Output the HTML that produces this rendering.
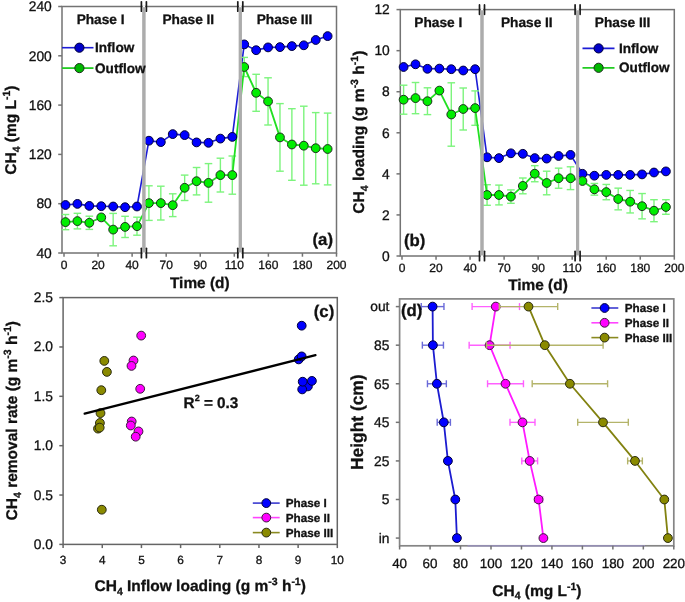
<!DOCTYPE html>
<html><head><meta charset="utf-8"><style>
html,body{margin:0;padding:0;background:#fff;}
svg{display:block;will-change:transform;}
text{text-rendering:geometricPrecision;font-family:"Liberation Sans", sans-serif;fill:#111;stroke:#111;stroke-width:0.3px;}
</style></head><body>
<svg width="685" height="602" viewBox="0 0 685 602">
<rect width="685" height="602" fill="#fff"/>
<rect x="62.0" y="6.5" width="274.50" height="246.50" fill="none" stroke="#737373" stroke-width="1.5"/>
<line x1="58.20" y1="253.00" x2="62.00" y2="253.00" stroke="#737373" stroke-width="1.5" />
<text x="51.80" y="257.70" font-size="13.8" text-anchor="end" font-weight="normal" >40</text>
<line x1="58.20" y1="203.70" x2="62.00" y2="203.70" stroke="#737373" stroke-width="1.5" />
<text x="51.80" y="208.40" font-size="13.8" text-anchor="end" font-weight="normal" >80</text>
<line x1="58.20" y1="154.40" x2="62.00" y2="154.40" stroke="#737373" stroke-width="1.5" />
<text x="51.80" y="159.10" font-size="13.8" text-anchor="end" font-weight="normal" >120</text>
<line x1="58.20" y1="105.10" x2="62.00" y2="105.10" stroke="#737373" stroke-width="1.5" />
<text x="51.80" y="109.80" font-size="13.8" text-anchor="end" font-weight="normal" >160</text>
<line x1="58.20" y1="55.80" x2="62.00" y2="55.80" stroke="#737373" stroke-width="1.5" />
<text x="51.80" y="60.50" font-size="13.8" text-anchor="end" font-weight="normal" >200</text>
<line x1="58.20" y1="6.50" x2="62.00" y2="6.50" stroke="#737373" stroke-width="1.5" />
<text x="51.80" y="11.20" font-size="13.8" text-anchor="end" font-weight="normal" >240</text>
<line x1="64.00" y1="253.00" x2="64.00" y2="256.70" stroke="#737373" stroke-width="1.5" />
<text x="64.00" y="268.90" font-size="12" text-anchor="middle" font-weight="normal" >0</text>
<line x1="98.06" y1="253.00" x2="98.06" y2="256.70" stroke="#737373" stroke-width="1.5" />
<text x="98.06" y="268.90" font-size="12" text-anchor="middle" font-weight="normal" >20</text>
<line x1="132.12" y1="253.00" x2="132.12" y2="256.70" stroke="#737373" stroke-width="1.5" />
<text x="132.12" y="268.90" font-size="12" text-anchor="middle" font-weight="normal" >40</text>
<line x1="166.19" y1="253.00" x2="166.19" y2="256.70" stroke="#737373" stroke-width="1.5" />
<text x="166.19" y="268.90" font-size="12" text-anchor="middle" font-weight="normal" >70</text>
<line x1="200.25" y1="253.00" x2="200.25" y2="256.70" stroke="#737373" stroke-width="1.5" />
<text x="200.25" y="268.90" font-size="12" text-anchor="middle" font-weight="normal" >90</text>
<line x1="234.31" y1="253.00" x2="234.31" y2="256.70" stroke="#737373" stroke-width="1.5" />
<text x="234.31" y="268.90" font-size="12" text-anchor="middle" font-weight="normal" >110</text>
<line x1="268.38" y1="253.00" x2="268.38" y2="256.70" stroke="#737373" stroke-width="1.5" />
<text x="268.38" y="268.90" font-size="12" text-anchor="middle" font-weight="normal" >160</text>
<line x1="302.44" y1="253.00" x2="302.44" y2="256.70" stroke="#737373" stroke-width="1.5" />
<text x="302.44" y="268.90" font-size="12" text-anchor="middle" font-weight="normal" >180</text>
<line x1="336.50" y1="253.00" x2="336.50" y2="256.70" stroke="#737373" stroke-width="1.5" />
<text x="336.50" y="268.90" font-size="12" text-anchor="middle" font-weight="normal" >200</text>
<text x="100.60" y="24.10" font-size="13.7" text-anchor="middle" font-weight="bold" >Phase I</text>
<text x="188.30" y="24.10" font-size="13.7" text-anchor="middle" font-weight="bold" >Phase II</text>
<text x="284.50" y="24.10" font-size="13.7" text-anchor="middle" font-weight="bold" >Phase III</text>
<polyline points="65.50,205.00 77.41,203.90 89.33,205.90 101.25,206.20 113.16,206.50 125.07,207.20 136.99,206.50 148.91,140.70 160.82,142.10 172.73,134.10 184.65,135.10 196.56,142.40 208.48,142.80 220.39,138.60 232.31,136.90 244.22,44.40 256.14,50.20 268.05,47.40 279.97,47.10 291.88,46.10 303.80,45.30 315.71,40.00 327.63,36.10" fill="none" stroke="#1c1cd6" stroke-width="1.6" stroke-linejoin="round"/>
<line x1="65.50" y1="214.50" x2="65.50" y2="229.70" stroke="#7cf47c" stroke-width="1.4" />
<line x1="61.70" y1="214.50" x2="69.30" y2="214.50" stroke="#7cf47c" stroke-width="1.4" />
<line x1="61.70" y1="229.70" x2="69.30" y2="229.70" stroke="#7cf47c" stroke-width="1.4" />
<line x1="77.41" y1="213.30" x2="77.41" y2="228.90" stroke="#7cf47c" stroke-width="1.4" />
<line x1="73.61" y1="213.30" x2="81.21" y2="213.30" stroke="#7cf47c" stroke-width="1.4" />
<line x1="73.61" y1="228.90" x2="81.21" y2="228.90" stroke="#7cf47c" stroke-width="1.4" />
<line x1="89.33" y1="216.20" x2="89.33" y2="229.40" stroke="#7cf47c" stroke-width="1.4" />
<line x1="85.53" y1="216.20" x2="93.13" y2="216.20" stroke="#7cf47c" stroke-width="1.4" />
<line x1="85.53" y1="229.40" x2="93.13" y2="229.40" stroke="#7cf47c" stroke-width="1.4" />
<line x1="113.16" y1="213.40" x2="113.16" y2="245.80" stroke="#7cf47c" stroke-width="1.4" />
<line x1="109.36" y1="213.40" x2="116.96" y2="213.40" stroke="#7cf47c" stroke-width="1.4" />
<line x1="109.36" y1="245.80" x2="116.96" y2="245.80" stroke="#7cf47c" stroke-width="1.4" />
<line x1="125.07" y1="216.30" x2="125.07" y2="237.50" stroke="#7cf47c" stroke-width="1.4" />
<line x1="121.27" y1="216.30" x2="128.88" y2="216.30" stroke="#7cf47c" stroke-width="1.4" />
<line x1="121.27" y1="237.50" x2="128.88" y2="237.50" stroke="#7cf47c" stroke-width="1.4" />
<line x1="136.99" y1="217.20" x2="136.99" y2="235.20" stroke="#7cf47c" stroke-width="1.4" />
<line x1="133.19" y1="217.20" x2="140.79" y2="217.20" stroke="#7cf47c" stroke-width="1.4" />
<line x1="133.19" y1="235.20" x2="140.79" y2="235.20" stroke="#7cf47c" stroke-width="1.4" />
<line x1="148.91" y1="185.80" x2="148.91" y2="220.40" stroke="#7cf47c" stroke-width="1.4" />
<line x1="145.10" y1="185.80" x2="152.71" y2="185.80" stroke="#7cf47c" stroke-width="1.4" />
<line x1="145.10" y1="220.40" x2="152.71" y2="220.40" stroke="#7cf47c" stroke-width="1.4" />
<line x1="160.82" y1="186.20" x2="160.82" y2="220.00" stroke="#7cf47c" stroke-width="1.4" />
<line x1="157.02" y1="186.20" x2="164.62" y2="186.20" stroke="#7cf47c" stroke-width="1.4" />
<line x1="157.02" y1="220.00" x2="164.62" y2="220.00" stroke="#7cf47c" stroke-width="1.4" />
<line x1="172.73" y1="193.80" x2="172.73" y2="216.60" stroke="#7cf47c" stroke-width="1.4" />
<line x1="168.93" y1="193.80" x2="176.53" y2="193.80" stroke="#7cf47c" stroke-width="1.4" />
<line x1="168.93" y1="216.60" x2="176.53" y2="216.60" stroke="#7cf47c" stroke-width="1.4" />
<line x1="184.65" y1="175.10" x2="184.65" y2="200.50" stroke="#7cf47c" stroke-width="1.4" />
<line x1="180.85" y1="175.10" x2="188.45" y2="175.10" stroke="#7cf47c" stroke-width="1.4" />
<line x1="180.85" y1="200.50" x2="188.45" y2="200.50" stroke="#7cf47c" stroke-width="1.4" />
<line x1="196.56" y1="167.50" x2="196.56" y2="194.90" stroke="#7cf47c" stroke-width="1.4" />
<line x1="192.76" y1="167.50" x2="200.37" y2="167.50" stroke="#7cf47c" stroke-width="1.4" />
<line x1="192.76" y1="194.90" x2="200.37" y2="194.90" stroke="#7cf47c" stroke-width="1.4" />
<line x1="208.48" y1="163.60" x2="208.48" y2="202.20" stroke="#7cf47c" stroke-width="1.4" />
<line x1="204.68" y1="163.60" x2="212.28" y2="163.60" stroke="#7cf47c" stroke-width="1.4" />
<line x1="204.68" y1="202.20" x2="212.28" y2="202.20" stroke="#7cf47c" stroke-width="1.4" />
<line x1="220.39" y1="158.20" x2="220.39" y2="192.00" stroke="#7cf47c" stroke-width="1.4" />
<line x1="216.59" y1="158.20" x2="224.19" y2="158.20" stroke="#7cf47c" stroke-width="1.4" />
<line x1="216.59" y1="192.00" x2="224.19" y2="192.00" stroke="#7cf47c" stroke-width="1.4" />
<line x1="232.31" y1="156.00" x2="232.31" y2="194.20" stroke="#7cf47c" stroke-width="1.4" />
<line x1="228.51" y1="156.00" x2="236.11" y2="156.00" stroke="#7cf47c" stroke-width="1.4" />
<line x1="228.51" y1="194.20" x2="236.11" y2="194.20" stroke="#7cf47c" stroke-width="1.4" />
<line x1="244.22" y1="57.40" x2="244.22" y2="76.60" stroke="#7cf47c" stroke-width="1.4" />
<line x1="240.42" y1="57.40" x2="248.03" y2="57.40" stroke="#7cf47c" stroke-width="1.4" />
<line x1="240.42" y1="76.60" x2="248.03" y2="76.60" stroke="#7cf47c" stroke-width="1.4" />
<line x1="256.14" y1="74.30" x2="256.14" y2="111.30" stroke="#7cf47c" stroke-width="1.4" />
<line x1="252.34" y1="74.30" x2="259.94" y2="74.30" stroke="#7cf47c" stroke-width="1.4" />
<line x1="252.34" y1="111.30" x2="259.94" y2="111.30" stroke="#7cf47c" stroke-width="1.4" />
<line x1="268.05" y1="77.80" x2="268.05" y2="125.00" stroke="#7cf47c" stroke-width="1.4" />
<line x1="264.25" y1="77.80" x2="271.85" y2="77.80" stroke="#7cf47c" stroke-width="1.4" />
<line x1="264.25" y1="125.00" x2="271.85" y2="125.00" stroke="#7cf47c" stroke-width="1.4" />
<line x1="279.97" y1="103.60" x2="279.97" y2="171.20" stroke="#7cf47c" stroke-width="1.4" />
<line x1="276.17" y1="103.60" x2="283.77" y2="103.60" stroke="#7cf47c" stroke-width="1.4" />
<line x1="276.17" y1="171.20" x2="283.77" y2="171.20" stroke="#7cf47c" stroke-width="1.4" />
<line x1="291.88" y1="108.70" x2="291.88" y2="180.30" stroke="#7cf47c" stroke-width="1.4" />
<line x1="288.08" y1="108.70" x2="295.69" y2="108.70" stroke="#7cf47c" stroke-width="1.4" />
<line x1="288.08" y1="180.30" x2="295.69" y2="180.30" stroke="#7cf47c" stroke-width="1.4" />
<line x1="303.80" y1="106.20" x2="303.80" y2="185.20" stroke="#7cf47c" stroke-width="1.4" />
<line x1="300.00" y1="106.20" x2="307.60" y2="106.20" stroke="#7cf47c" stroke-width="1.4" />
<line x1="300.00" y1="185.20" x2="307.60" y2="185.20" stroke="#7cf47c" stroke-width="1.4" />
<line x1="315.71" y1="112.60" x2="315.71" y2="183.80" stroke="#7cf47c" stroke-width="1.4" />
<line x1="311.91" y1="112.60" x2="319.51" y2="112.60" stroke="#7cf47c" stroke-width="1.4" />
<line x1="311.91" y1="183.80" x2="319.51" y2="183.80" stroke="#7cf47c" stroke-width="1.4" />
<line x1="327.63" y1="113.10" x2="327.63" y2="184.90" stroke="#7cf47c" stroke-width="1.4" />
<line x1="323.83" y1="113.10" x2="331.43" y2="113.10" stroke="#7cf47c" stroke-width="1.4" />
<line x1="323.83" y1="184.90" x2="331.43" y2="184.90" stroke="#7cf47c" stroke-width="1.4" />
<polyline points="65.50,222.10 77.41,221.10 89.33,222.80 101.25,217.40 113.16,229.60 125.07,226.90 136.99,226.20 148.91,203.10 160.82,203.10 172.73,205.20 184.65,187.80 196.56,181.20 208.48,182.90 220.39,175.10 232.31,175.10 244.22,67.00 256.14,92.80 268.05,101.40 279.97,137.40 291.88,144.50 303.80,145.70 315.71,148.20 327.63,149.00" fill="none" stroke="#22e022" stroke-width="1.8" stroke-linejoin="round"/>
<circle cx="65.50" cy="205.00" r="4.4" fill="#0000ff" stroke="#00003a" stroke-width="1.0"/>
<circle cx="77.41" cy="203.90" r="4.4" fill="#0000ff" stroke="#00003a" stroke-width="1.0"/>
<circle cx="89.33" cy="205.90" r="4.4" fill="#0000ff" stroke="#00003a" stroke-width="1.0"/>
<circle cx="101.25" cy="206.20" r="4.4" fill="#0000ff" stroke="#00003a" stroke-width="1.0"/>
<circle cx="113.16" cy="206.50" r="4.4" fill="#0000ff" stroke="#00003a" stroke-width="1.0"/>
<circle cx="125.07" cy="207.20" r="4.4" fill="#0000ff" stroke="#00003a" stroke-width="1.0"/>
<circle cx="136.99" cy="206.50" r="4.4" fill="#0000ff" stroke="#00003a" stroke-width="1.0"/>
<circle cx="148.91" cy="140.70" r="4.4" fill="#0000ff" stroke="#00003a" stroke-width="1.0"/>
<circle cx="160.82" cy="142.10" r="4.4" fill="#0000ff" stroke="#00003a" stroke-width="1.0"/>
<circle cx="172.73" cy="134.10" r="4.4" fill="#0000ff" stroke="#00003a" stroke-width="1.0"/>
<circle cx="184.65" cy="135.10" r="4.4" fill="#0000ff" stroke="#00003a" stroke-width="1.0"/>
<circle cx="196.56" cy="142.40" r="4.4" fill="#0000ff" stroke="#00003a" stroke-width="1.0"/>
<circle cx="208.48" cy="142.80" r="4.4" fill="#0000ff" stroke="#00003a" stroke-width="1.0"/>
<circle cx="220.39" cy="138.60" r="4.4" fill="#0000ff" stroke="#00003a" stroke-width="1.0"/>
<circle cx="232.31" cy="136.90" r="4.4" fill="#0000ff" stroke="#00003a" stroke-width="1.0"/>
<circle cx="244.22" cy="44.40" r="4.4" fill="#0000ff" stroke="#00003a" stroke-width="1.0"/>
<circle cx="256.14" cy="50.20" r="4.4" fill="#0000ff" stroke="#00003a" stroke-width="1.0"/>
<circle cx="268.05" cy="47.40" r="4.4" fill="#0000ff" stroke="#00003a" stroke-width="1.0"/>
<circle cx="279.97" cy="47.10" r="4.4" fill="#0000ff" stroke="#00003a" stroke-width="1.0"/>
<circle cx="291.88" cy="46.10" r="4.4" fill="#0000ff" stroke="#00003a" stroke-width="1.0"/>
<circle cx="303.80" cy="45.30" r="4.4" fill="#0000ff" stroke="#00003a" stroke-width="1.0"/>
<circle cx="315.71" cy="40.00" r="4.4" fill="#0000ff" stroke="#00003a" stroke-width="1.0"/>
<circle cx="327.63" cy="36.10" r="4.4" fill="#0000ff" stroke="#00003a" stroke-width="1.0"/>
<circle cx="65.50" cy="222.10" r="4.4" fill="#00ee00" stroke="#1e2e1e" stroke-width="1.0"/>
<circle cx="77.41" cy="221.10" r="4.4" fill="#00ee00" stroke="#1e2e1e" stroke-width="1.0"/>
<circle cx="89.33" cy="222.80" r="4.4" fill="#00ee00" stroke="#1e2e1e" stroke-width="1.0"/>
<circle cx="101.25" cy="217.40" r="4.4" fill="#00ee00" stroke="#1e2e1e" stroke-width="1.0"/>
<circle cx="113.16" cy="229.60" r="4.4" fill="#00ee00" stroke="#1e2e1e" stroke-width="1.0"/>
<circle cx="125.07" cy="226.90" r="4.4" fill="#00ee00" stroke="#1e2e1e" stroke-width="1.0"/>
<circle cx="136.99" cy="226.20" r="4.4" fill="#00ee00" stroke="#1e2e1e" stroke-width="1.0"/>
<circle cx="148.91" cy="203.10" r="4.4" fill="#00ee00" stroke="#1e2e1e" stroke-width="1.0"/>
<circle cx="160.82" cy="203.10" r="4.4" fill="#00ee00" stroke="#1e2e1e" stroke-width="1.0"/>
<circle cx="172.73" cy="205.20" r="4.4" fill="#00ee00" stroke="#1e2e1e" stroke-width="1.0"/>
<circle cx="184.65" cy="187.80" r="4.4" fill="#00ee00" stroke="#1e2e1e" stroke-width="1.0"/>
<circle cx="196.56" cy="181.20" r="4.4" fill="#00ee00" stroke="#1e2e1e" stroke-width="1.0"/>
<circle cx="208.48" cy="182.90" r="4.4" fill="#00ee00" stroke="#1e2e1e" stroke-width="1.0"/>
<circle cx="220.39" cy="175.10" r="4.4" fill="#00ee00" stroke="#1e2e1e" stroke-width="1.0"/>
<circle cx="232.31" cy="175.10" r="4.4" fill="#00ee00" stroke="#1e2e1e" stroke-width="1.0"/>
<circle cx="244.22" cy="67.00" r="4.4" fill="#00ee00" stroke="#1e2e1e" stroke-width="1.0"/>
<circle cx="256.14" cy="92.80" r="4.4" fill="#00ee00" stroke="#1e2e1e" stroke-width="1.0"/>
<circle cx="268.05" cy="101.40" r="4.4" fill="#00ee00" stroke="#1e2e1e" stroke-width="1.0"/>
<circle cx="279.97" cy="137.40" r="4.4" fill="#00ee00" stroke="#1e2e1e" stroke-width="1.0"/>
<circle cx="291.88" cy="144.50" r="4.4" fill="#00ee00" stroke="#1e2e1e" stroke-width="1.0"/>
<circle cx="303.80" cy="145.70" r="4.4" fill="#00ee00" stroke="#1e2e1e" stroke-width="1.0"/>
<circle cx="315.71" cy="148.20" r="4.4" fill="#00ee00" stroke="#1e2e1e" stroke-width="1.0"/>
<circle cx="327.63" cy="149.00" r="4.4" fill="#00ee00" stroke="#1e2e1e" stroke-width="1.0"/>
<line x1="143.90" y1="7.30" x2="143.90" y2="252.50" stroke="#acacac" stroke-width="3.0" />
<rect x="142.70" y="5.50" width="2.4" height="2" fill="#fff"/>
<line x1="141.40" y1="1.80" x2="141.40" y2="11.20" stroke="#1a1a1a" stroke-width="1.7" stroke-linecap="round"/>
<line x1="146.40" y1="1.80" x2="146.40" y2="11.20" stroke="#1a1a1a" stroke-width="1.7" stroke-linecap="round"/>
<rect x="142.70" y="252.00" width="2.4" height="2" fill="#fff"/>
<line x1="141.40" y1="248.30" x2="141.40" y2="257.70" stroke="#1a1a1a" stroke-width="1.7" stroke-linecap="round"/>
<line x1="146.40" y1="248.30" x2="146.40" y2="257.70" stroke="#1a1a1a" stroke-width="1.7" stroke-linecap="round"/>
<line x1="143.90" y1="7.30" x2="143.90" y2="252.50" stroke="#acacac" stroke-width="3.0" />
<line x1="240.30" y1="7.30" x2="240.30" y2="252.50" stroke="#acacac" stroke-width="3.0" />
<rect x="239.10" y="5.50" width="2.4" height="2" fill="#fff"/>
<line x1="237.80" y1="1.80" x2="237.80" y2="11.20" stroke="#1a1a1a" stroke-width="1.7" stroke-linecap="round"/>
<line x1="242.80" y1="1.80" x2="242.80" y2="11.20" stroke="#1a1a1a" stroke-width="1.7" stroke-linecap="round"/>
<rect x="239.10" y="252.00" width="2.4" height="2" fill="#fff"/>
<line x1="237.80" y1="248.30" x2="237.80" y2="257.70" stroke="#1a1a1a" stroke-width="1.7" stroke-linecap="round"/>
<line x1="242.80" y1="248.30" x2="242.80" y2="257.70" stroke="#1a1a1a" stroke-width="1.7" stroke-linecap="round"/>
<line x1="240.30" y1="7.30" x2="240.30" y2="252.50" stroke="#acacac" stroke-width="3.0" />
<line x1="62.00" y1="47.70" x2="93.50" y2="47.70" stroke="#1c1cd6" stroke-width="1.6" />
<circle cx="79.40" cy="47.70" r="4.6" fill="#0000c8" stroke="#00003a" stroke-width="1.0"/>
<line x1="62.00" y1="68.10" x2="93.50" y2="68.10" stroke="#22cc22" stroke-width="1.8" />
<circle cx="79.40" cy="68.10" r="4.6" fill="#00b800" stroke="#1e2e1e" stroke-width="1.0"/>
<text x="95.00" y="52.20" font-size="13.6" text-anchor="start" font-weight="bold" >Inflow</text>
<text x="95.00" y="72.60" font-size="13.6" text-anchor="start" font-weight="bold" >Outflow</text>
<text x="333.00" y="244.60" font-size="16.8" text-anchor="end" font-weight="bold" >(a)</text>
<text transform="translate(16.2,130.1) rotate(-90)" font-size="15.5" font-weight="bold" text-anchor="middle"><tspan dy="0.0">CH</tspan><tspan font-size="10.5" dy="3.6">4</tspan><tspan dy="-3.6"> (mg L</tspan><tspan font-size="10.5" dy="-6.2">-1</tspan><tspan dy="6.2">)</tspan></text>
<text x="199.80" y="288.00" font-size="15.4" text-anchor="middle" font-weight="bold" >Time (d)</text>
<rect x="400.3" y="9.6" width="274.00" height="246.40" fill="none" stroke="#737373" stroke-width="1.5"/>
<line x1="396.50" y1="256.00" x2="400.30" y2="256.00" stroke="#737373" stroke-width="1.5" />
<text x="389.80" y="260.70" font-size="13.8" text-anchor="end" font-weight="normal" >0</text>
<line x1="396.50" y1="214.93" x2="400.30" y2="214.93" stroke="#737373" stroke-width="1.5" />
<text x="389.80" y="219.63" font-size="13.8" text-anchor="end" font-weight="normal" >2</text>
<line x1="396.50" y1="173.87" x2="400.30" y2="173.87" stroke="#737373" stroke-width="1.5" />
<text x="389.80" y="178.57" font-size="13.8" text-anchor="end" font-weight="normal" >4</text>
<line x1="396.50" y1="132.80" x2="400.30" y2="132.80" stroke="#737373" stroke-width="1.5" />
<text x="389.80" y="137.50" font-size="13.8" text-anchor="end" font-weight="normal" >6</text>
<line x1="396.50" y1="91.73" x2="400.30" y2="91.73" stroke="#737373" stroke-width="1.5" />
<text x="389.80" y="96.43" font-size="13.8" text-anchor="end" font-weight="normal" >8</text>
<line x1="396.50" y1="50.67" x2="400.30" y2="50.67" stroke="#737373" stroke-width="1.5" />
<text x="389.80" y="55.37" font-size="13.8" text-anchor="end" font-weight="normal" >10</text>
<line x1="396.50" y1="9.60" x2="400.30" y2="9.60" stroke="#737373" stroke-width="1.5" />
<text x="389.80" y="14.30" font-size="13.8" text-anchor="end" font-weight="normal" >12</text>
<line x1="402.00" y1="256.00" x2="402.00" y2="259.70" stroke="#737373" stroke-width="1.5" />
<text x="402.00" y="271.90" font-size="12" text-anchor="middle" font-weight="normal" >0</text>
<line x1="436.04" y1="256.00" x2="436.04" y2="259.70" stroke="#737373" stroke-width="1.5" />
<text x="436.04" y="271.90" font-size="12" text-anchor="middle" font-weight="normal" >20</text>
<line x1="470.07" y1="256.00" x2="470.07" y2="259.70" stroke="#737373" stroke-width="1.5" />
<text x="470.07" y="271.90" font-size="12" text-anchor="middle" font-weight="normal" >40</text>
<line x1="504.11" y1="256.00" x2="504.11" y2="259.70" stroke="#737373" stroke-width="1.5" />
<text x="504.11" y="271.90" font-size="12" text-anchor="middle" font-weight="normal" >70</text>
<line x1="538.15" y1="256.00" x2="538.15" y2="259.70" stroke="#737373" stroke-width="1.5" />
<text x="538.15" y="271.90" font-size="12" text-anchor="middle" font-weight="normal" >90</text>
<line x1="572.19" y1="256.00" x2="572.19" y2="259.70" stroke="#737373" stroke-width="1.5" />
<text x="572.19" y="271.90" font-size="12" text-anchor="middle" font-weight="normal" >110</text>
<line x1="606.22" y1="256.00" x2="606.22" y2="259.70" stroke="#737373" stroke-width="1.5" />
<text x="606.22" y="271.90" font-size="12" text-anchor="middle" font-weight="normal" >160</text>
<line x1="640.26" y1="256.00" x2="640.26" y2="259.70" stroke="#737373" stroke-width="1.5" />
<text x="640.26" y="271.90" font-size="12" text-anchor="middle" font-weight="normal" >180</text>
<line x1="674.30" y1="256.00" x2="674.30" y2="259.70" stroke="#737373" stroke-width="1.5" />
<text x="674.30" y="271.90" font-size="12" text-anchor="middle" font-weight="normal" >200</text>
<text x="438.30" y="27.30" font-size="13.7" text-anchor="middle" font-weight="bold" >Phase I</text>
<text x="526.80" y="27.30" font-size="13.7" text-anchor="middle" font-weight="bold" >Phase II</text>
<text x="622.60" y="27.30" font-size="13.7" text-anchor="middle" font-weight="bold" >Phase III</text>
<polyline points="403.60,67.00 415.52,64.30 427.45,68.80 439.37,68.60 451.29,69.20 463.22,70.50 475.14,69.20 487.06,157.30 498.98,158.10 510.91,153.30 522.83,153.80 534.75,158.10 546.68,158.60 558.60,156.00 570.52,154.90 582.45,173.80 594.37,175.70 606.29,174.90 618.21,174.90 630.14,174.90 642.06,174.40 653.98,172.50 665.91,171.40" fill="none" stroke="#1c1cd6" stroke-width="1.6" stroke-linejoin="round"/>
<line x1="403.60" y1="85.20" x2="403.60" y2="114.20" stroke="#7cf47c" stroke-width="1.4" />
<line x1="399.80" y1="85.20" x2="407.40" y2="85.20" stroke="#7cf47c" stroke-width="1.4" />
<line x1="399.80" y1="114.20" x2="407.40" y2="114.20" stroke="#7cf47c" stroke-width="1.4" />
<line x1="415.52" y1="82.50" x2="415.52" y2="113.70" stroke="#7cf47c" stroke-width="1.4" />
<line x1="411.72" y1="82.50" x2="419.32" y2="82.50" stroke="#7cf47c" stroke-width="1.4" />
<line x1="411.72" y1="113.70" x2="419.32" y2="113.70" stroke="#7cf47c" stroke-width="1.4" />
<line x1="427.45" y1="87.80" x2="427.45" y2="114.60" stroke="#7cf47c" stroke-width="1.4" />
<line x1="423.65" y1="87.80" x2="431.25" y2="87.80" stroke="#7cf47c" stroke-width="1.4" />
<line x1="423.65" y1="114.60" x2="431.25" y2="114.60" stroke="#7cf47c" stroke-width="1.4" />
<line x1="451.29" y1="82.80" x2="451.29" y2="146.20" stroke="#7cf47c" stroke-width="1.4" />
<line x1="447.49" y1="82.80" x2="455.09" y2="82.80" stroke="#7cf47c" stroke-width="1.4" />
<line x1="447.49" y1="146.20" x2="455.09" y2="146.20" stroke="#7cf47c" stroke-width="1.4" />
<line x1="463.22" y1="88.00" x2="463.22" y2="130.00" stroke="#7cf47c" stroke-width="1.4" />
<line x1="459.42" y1="88.00" x2="467.02" y2="88.00" stroke="#7cf47c" stroke-width="1.4" />
<line x1="459.42" y1="130.00" x2="467.02" y2="130.00" stroke="#7cf47c" stroke-width="1.4" />
<line x1="475.14" y1="90.90" x2="475.14" y2="125.30" stroke="#7cf47c" stroke-width="1.4" />
<line x1="471.34" y1="90.90" x2="478.94" y2="90.90" stroke="#7cf47c" stroke-width="1.4" />
<line x1="471.34" y1="125.30" x2="478.94" y2="125.30" stroke="#7cf47c" stroke-width="1.4" />
<line x1="487.06" y1="184.70" x2="487.06" y2="205.30" stroke="#7cf47c" stroke-width="1.4" />
<line x1="483.26" y1="184.70" x2="490.86" y2="184.70" stroke="#7cf47c" stroke-width="1.4" />
<line x1="483.26" y1="205.30" x2="490.86" y2="205.30" stroke="#7cf47c" stroke-width="1.4" />
<line x1="498.98" y1="185.10" x2="498.98" y2="204.90" stroke="#7cf47c" stroke-width="1.4" />
<line x1="495.18" y1="185.10" x2="502.78" y2="185.10" stroke="#7cf47c" stroke-width="1.4" />
<line x1="495.18" y1="204.90" x2="502.78" y2="204.90" stroke="#7cf47c" stroke-width="1.4" />
<line x1="510.91" y1="189.90" x2="510.91" y2="203.30" stroke="#7cf47c" stroke-width="1.4" />
<line x1="507.11" y1="189.90" x2="514.71" y2="189.90" stroke="#7cf47c" stroke-width="1.4" />
<line x1="507.11" y1="203.30" x2="514.71" y2="203.30" stroke="#7cf47c" stroke-width="1.4" />
<line x1="522.83" y1="178.00" x2="522.83" y2="193.80" stroke="#7cf47c" stroke-width="1.4" />
<line x1="519.03" y1="178.00" x2="526.63" y2="178.00" stroke="#7cf47c" stroke-width="1.4" />
<line x1="519.03" y1="193.80" x2="526.63" y2="193.80" stroke="#7cf47c" stroke-width="1.4" />
<line x1="534.75" y1="165.65" x2="534.75" y2="181.75" stroke="#7cf47c" stroke-width="1.4" />
<line x1="530.95" y1="165.65" x2="538.55" y2="165.65" stroke="#7cf47c" stroke-width="1.4" />
<line x1="530.95" y1="181.75" x2="538.55" y2="181.75" stroke="#7cf47c" stroke-width="1.4" />
<line x1="546.68" y1="171.20" x2="546.68" y2="194.80" stroke="#7cf47c" stroke-width="1.4" />
<line x1="542.88" y1="171.20" x2="550.48" y2="171.20" stroke="#7cf47c" stroke-width="1.4" />
<line x1="542.88" y1="194.80" x2="550.48" y2="194.80" stroke="#7cf47c" stroke-width="1.4" />
<line x1="558.60" y1="168.15" x2="558.60" y2="188.25" stroke="#7cf47c" stroke-width="1.4" />
<line x1="554.80" y1="168.15" x2="562.40" y2="168.15" stroke="#7cf47c" stroke-width="1.4" />
<line x1="554.80" y1="188.25" x2="562.40" y2="188.25" stroke="#7cf47c" stroke-width="1.4" />
<line x1="570.52" y1="166.80" x2="570.52" y2="189.60" stroke="#7cf47c" stroke-width="1.4" />
<line x1="566.72" y1="166.80" x2="574.32" y2="166.80" stroke="#7cf47c" stroke-width="1.4" />
<line x1="566.72" y1="189.60" x2="574.32" y2="189.60" stroke="#7cf47c" stroke-width="1.4" />
<line x1="594.37" y1="183.45" x2="594.37" y2="195.15" stroke="#7cf47c" stroke-width="1.4" />
<line x1="590.57" y1="183.45" x2="598.17" y2="183.45" stroke="#7cf47c" stroke-width="1.4" />
<line x1="590.57" y1="195.15" x2="598.17" y2="195.15" stroke="#7cf47c" stroke-width="1.4" />
<line x1="606.29" y1="184.45" x2="606.29" y2="199.75" stroke="#7cf47c" stroke-width="1.4" />
<line x1="602.49" y1="184.45" x2="610.09" y2="184.45" stroke="#7cf47c" stroke-width="1.4" />
<line x1="602.49" y1="199.75" x2="610.09" y2="199.75" stroke="#7cf47c" stroke-width="1.4" />
<line x1="618.21" y1="188.15" x2="618.21" y2="209.85" stroke="#7cf47c" stroke-width="1.4" />
<line x1="614.41" y1="188.15" x2="622.01" y2="188.15" stroke="#7cf47c" stroke-width="1.4" />
<line x1="614.41" y1="209.85" x2="622.01" y2="209.85" stroke="#7cf47c" stroke-width="1.4" />
<line x1="630.14" y1="190.45" x2="630.14" y2="212.95" stroke="#7cf47c" stroke-width="1.4" />
<line x1="626.34" y1="190.45" x2="633.94" y2="190.45" stroke="#7cf47c" stroke-width="1.4" />
<line x1="626.34" y1="212.95" x2="633.94" y2="212.95" stroke="#7cf47c" stroke-width="1.4" />
<line x1="642.06" y1="193.55" x2="642.06" y2="218.85" stroke="#7cf47c" stroke-width="1.4" />
<line x1="638.26" y1="193.55" x2="645.86" y2="193.55" stroke="#7cf47c" stroke-width="1.4" />
<line x1="638.26" y1="218.85" x2="645.86" y2="218.85" stroke="#7cf47c" stroke-width="1.4" />
<line x1="653.98" y1="199.70" x2="653.98" y2="221.70" stroke="#7cf47c" stroke-width="1.4" />
<line x1="650.18" y1="199.70" x2="657.78" y2="199.70" stroke="#7cf47c" stroke-width="1.4" />
<line x1="650.18" y1="221.70" x2="657.78" y2="221.70" stroke="#7cf47c" stroke-width="1.4" />
<line x1="665.91" y1="199.70" x2="665.91" y2="214.30" stroke="#7cf47c" stroke-width="1.4" />
<line x1="662.11" y1="199.70" x2="669.71" y2="199.70" stroke="#7cf47c" stroke-width="1.4" />
<line x1="662.11" y1="214.30" x2="669.71" y2="214.30" stroke="#7cf47c" stroke-width="1.4" />
<polyline points="403.60,99.70 415.52,98.10 427.45,101.20 439.37,90.60 451.29,114.50 463.22,109.00 475.14,108.10 487.06,195.00 498.98,195.00 510.91,196.60 522.83,185.90 534.75,173.70 546.68,183.00 558.60,178.20 570.52,178.20 582.45,181.00 594.37,189.30 606.29,192.10 618.21,199.00 630.14,201.70 642.06,206.20 653.98,210.70 665.91,207.00" fill="none" stroke="#22e022" stroke-width="1.8" stroke-linejoin="round"/>
<circle cx="403.60" cy="67.00" r="4.4" fill="#0000ff" stroke="#00003a" stroke-width="1.0"/>
<circle cx="415.52" cy="64.30" r="4.4" fill="#0000ff" stroke="#00003a" stroke-width="1.0"/>
<circle cx="427.45" cy="68.80" r="4.4" fill="#0000ff" stroke="#00003a" stroke-width="1.0"/>
<circle cx="439.37" cy="68.60" r="4.4" fill="#0000ff" stroke="#00003a" stroke-width="1.0"/>
<circle cx="451.29" cy="69.20" r="4.4" fill="#0000ff" stroke="#00003a" stroke-width="1.0"/>
<circle cx="463.22" cy="70.50" r="4.4" fill="#0000ff" stroke="#00003a" stroke-width="1.0"/>
<circle cx="475.14" cy="69.20" r="4.4" fill="#0000ff" stroke="#00003a" stroke-width="1.0"/>
<circle cx="487.06" cy="157.30" r="4.4" fill="#0000ff" stroke="#00003a" stroke-width="1.0"/>
<circle cx="498.98" cy="158.10" r="4.4" fill="#0000ff" stroke="#00003a" stroke-width="1.0"/>
<circle cx="510.91" cy="153.30" r="4.4" fill="#0000ff" stroke="#00003a" stroke-width="1.0"/>
<circle cx="522.83" cy="153.80" r="4.4" fill="#0000ff" stroke="#00003a" stroke-width="1.0"/>
<circle cx="534.75" cy="158.10" r="4.4" fill="#0000ff" stroke="#00003a" stroke-width="1.0"/>
<circle cx="546.68" cy="158.60" r="4.4" fill="#0000ff" stroke="#00003a" stroke-width="1.0"/>
<circle cx="558.60" cy="156.00" r="4.4" fill="#0000ff" stroke="#00003a" stroke-width="1.0"/>
<circle cx="570.52" cy="154.90" r="4.4" fill="#0000ff" stroke="#00003a" stroke-width="1.0"/>
<circle cx="582.45" cy="173.80" r="4.4" fill="#0000ff" stroke="#00003a" stroke-width="1.0"/>
<circle cx="594.37" cy="175.70" r="4.4" fill="#0000ff" stroke="#00003a" stroke-width="1.0"/>
<circle cx="606.29" cy="174.90" r="4.4" fill="#0000ff" stroke="#00003a" stroke-width="1.0"/>
<circle cx="618.21" cy="174.90" r="4.4" fill="#0000ff" stroke="#00003a" stroke-width="1.0"/>
<circle cx="630.14" cy="174.90" r="4.4" fill="#0000ff" stroke="#00003a" stroke-width="1.0"/>
<circle cx="642.06" cy="174.40" r="4.4" fill="#0000ff" stroke="#00003a" stroke-width="1.0"/>
<circle cx="653.98" cy="172.50" r="4.4" fill="#0000ff" stroke="#00003a" stroke-width="1.0"/>
<circle cx="665.91" cy="171.40" r="4.4" fill="#0000ff" stroke="#00003a" stroke-width="1.0"/>
<circle cx="403.60" cy="99.70" r="4.4" fill="#00ee00" stroke="#1e2e1e" stroke-width="1.0"/>
<circle cx="415.52" cy="98.10" r="4.4" fill="#00ee00" stroke="#1e2e1e" stroke-width="1.0"/>
<circle cx="427.45" cy="101.20" r="4.4" fill="#00ee00" stroke="#1e2e1e" stroke-width="1.0"/>
<circle cx="439.37" cy="90.60" r="4.4" fill="#00ee00" stroke="#1e2e1e" stroke-width="1.0"/>
<circle cx="451.29" cy="114.50" r="4.4" fill="#00ee00" stroke="#1e2e1e" stroke-width="1.0"/>
<circle cx="463.22" cy="109.00" r="4.4" fill="#00ee00" stroke="#1e2e1e" stroke-width="1.0"/>
<circle cx="475.14" cy="108.10" r="4.4" fill="#00ee00" stroke="#1e2e1e" stroke-width="1.0"/>
<circle cx="487.06" cy="195.00" r="4.4" fill="#00ee00" stroke="#1e2e1e" stroke-width="1.0"/>
<circle cx="498.98" cy="195.00" r="4.4" fill="#00ee00" stroke="#1e2e1e" stroke-width="1.0"/>
<circle cx="510.91" cy="196.60" r="4.4" fill="#00ee00" stroke="#1e2e1e" stroke-width="1.0"/>
<circle cx="522.83" cy="185.90" r="4.4" fill="#00ee00" stroke="#1e2e1e" stroke-width="1.0"/>
<circle cx="534.75" cy="173.70" r="4.4" fill="#00ee00" stroke="#1e2e1e" stroke-width="1.0"/>
<circle cx="546.68" cy="183.00" r="4.4" fill="#00ee00" stroke="#1e2e1e" stroke-width="1.0"/>
<circle cx="558.60" cy="178.20" r="4.4" fill="#00ee00" stroke="#1e2e1e" stroke-width="1.0"/>
<circle cx="570.52" cy="178.20" r="4.4" fill="#00ee00" stroke="#1e2e1e" stroke-width="1.0"/>
<circle cx="582.45" cy="181.00" r="4.4" fill="#00ee00" stroke="#1e2e1e" stroke-width="1.0"/>
<circle cx="594.37" cy="189.30" r="4.4" fill="#00ee00" stroke="#1e2e1e" stroke-width="1.0"/>
<circle cx="606.29" cy="192.10" r="4.4" fill="#00ee00" stroke="#1e2e1e" stroke-width="1.0"/>
<circle cx="618.21" cy="199.00" r="4.4" fill="#00ee00" stroke="#1e2e1e" stroke-width="1.0"/>
<circle cx="630.14" cy="201.70" r="4.4" fill="#00ee00" stroke="#1e2e1e" stroke-width="1.0"/>
<circle cx="642.06" cy="206.20" r="4.4" fill="#00ee00" stroke="#1e2e1e" stroke-width="1.0"/>
<circle cx="653.98" cy="210.70" r="4.4" fill="#00ee00" stroke="#1e2e1e" stroke-width="1.0"/>
<circle cx="665.91" cy="207.00" r="4.4" fill="#00ee00" stroke="#1e2e1e" stroke-width="1.0"/>
<line x1="482.00" y1="10.40" x2="482.00" y2="255.50" stroke="#acacac" stroke-width="3.0" />
<rect x="480.80" y="8.60" width="2.4" height="2" fill="#fff"/>
<line x1="479.50" y1="4.90" x2="479.50" y2="14.30" stroke="#1a1a1a" stroke-width="1.7" stroke-linecap="round"/>
<line x1="484.50" y1="4.90" x2="484.50" y2="14.30" stroke="#1a1a1a" stroke-width="1.7" stroke-linecap="round"/>
<rect x="480.80" y="255.00" width="2.4" height="2" fill="#fff"/>
<line x1="479.50" y1="251.30" x2="479.50" y2="260.70" stroke="#1a1a1a" stroke-width="1.7" stroke-linecap="round"/>
<line x1="484.50" y1="251.30" x2="484.50" y2="260.70" stroke="#1a1a1a" stroke-width="1.7" stroke-linecap="round"/>
<line x1="482.00" y1="10.40" x2="482.00" y2="255.50" stroke="#acacac" stroke-width="3.0" />
<line x1="577.60" y1="10.40" x2="577.60" y2="255.50" stroke="#acacac" stroke-width="3.0" />
<rect x="576.40" y="8.60" width="2.4" height="2" fill="#fff"/>
<line x1="575.10" y1="4.90" x2="575.10" y2="14.30" stroke="#1a1a1a" stroke-width="1.7" stroke-linecap="round"/>
<line x1="580.10" y1="4.90" x2="580.10" y2="14.30" stroke="#1a1a1a" stroke-width="1.7" stroke-linecap="round"/>
<rect x="576.40" y="255.00" width="2.4" height="2" fill="#fff"/>
<line x1="575.10" y1="251.30" x2="575.10" y2="260.70" stroke="#1a1a1a" stroke-width="1.7" stroke-linecap="round"/>
<line x1="580.10" y1="251.30" x2="580.10" y2="260.70" stroke="#1a1a1a" stroke-width="1.7" stroke-linecap="round"/>
<line x1="577.60" y1="10.40" x2="577.60" y2="255.50" stroke="#acacac" stroke-width="3.0" />
<line x1="582.50" y1="48.40" x2="614.50" y2="48.40" stroke="#1c1cd6" stroke-width="1.6" />
<circle cx="598.60" cy="48.40" r="4.6" fill="#0000c8" stroke="#00003a" stroke-width="1.0"/>
<line x1="582.50" y1="67.80" x2="614.50" y2="67.80" stroke="#22cc22" stroke-width="1.8" />
<circle cx="598.60" cy="67.80" r="4.6" fill="#00b800" stroke="#1e2e1e" stroke-width="1.0"/>
<text x="619.00" y="52.90" font-size="13.6" text-anchor="start" font-weight="bold" >Inflow</text>
<text x="619.00" y="72.30" font-size="13.6" text-anchor="start" font-weight="bold" >Outflow</text>
<text x="404.00" y="246.20" font-size="16.8" text-anchor="start" font-weight="bold" >(b)</text>
<text transform="translate(364.4,132.2) rotate(-90)" font-size="15.6" font-weight="bold" text-anchor="middle"><tspan dy="0.0">CH</tspan><tspan font-size="10.5" dy="3.6">4</tspan><tspan dy="-3.6"> loading (g m</tspan><tspan font-size="10.5" dy="-6.2">-3</tspan><tspan dy="6.2"> h</tspan><tspan font-size="10.5" dy="-6.2">-1</tspan><tspan dy="6.2">)</tspan></text>
<text x="538.00" y="289.70" font-size="15.4" text-anchor="middle" font-weight="bold" >Time (d)</text>
<rect x="63.1" y="297.6" width="274.20" height="246.80" fill="none" stroke="#656565" stroke-width="1.5"/>
<line x1="59.30" y1="544.40" x2="63.10" y2="544.40" stroke="#656565" stroke-width="1.5" />
<text x="53.00" y="548.90" font-size="13.8" text-anchor="end" font-weight="normal" >0.0</text>
<line x1="59.30" y1="495.04" x2="63.10" y2="495.04" stroke="#656565" stroke-width="1.5" />
<text x="53.00" y="499.54" font-size="13.8" text-anchor="end" font-weight="normal" >0.5</text>
<line x1="59.30" y1="445.68" x2="63.10" y2="445.68" stroke="#656565" stroke-width="1.5" />
<text x="53.00" y="450.18" font-size="13.8" text-anchor="end" font-weight="normal" >1.0</text>
<line x1="59.30" y1="396.32" x2="63.10" y2="396.32" stroke="#656565" stroke-width="1.5" />
<text x="53.00" y="400.82" font-size="13.8" text-anchor="end" font-weight="normal" >1.5</text>
<line x1="59.30" y1="346.96" x2="63.10" y2="346.96" stroke="#656565" stroke-width="1.5" />
<text x="53.00" y="351.46" font-size="13.8" text-anchor="end" font-weight="normal" >2.0</text>
<line x1="59.30" y1="297.60" x2="63.10" y2="297.60" stroke="#656565" stroke-width="1.5" />
<text x="53.00" y="302.10" font-size="13.8" text-anchor="end" font-weight="normal" >2.5</text>
<line x1="63.10" y1="544.40" x2="63.10" y2="548.10" stroke="#656565" stroke-width="1.5" />
<text x="63.10" y="564.00" font-size="11.8" text-anchor="middle" font-weight="normal" >3</text>
<line x1="102.27" y1="544.40" x2="102.27" y2="548.10" stroke="#656565" stroke-width="1.5" />
<text x="102.27" y="564.00" font-size="11.8" text-anchor="middle" font-weight="normal" >4</text>
<line x1="141.44" y1="544.40" x2="141.44" y2="548.10" stroke="#656565" stroke-width="1.5" />
<text x="141.44" y="564.00" font-size="11.8" text-anchor="middle" font-weight="normal" >5</text>
<line x1="180.61" y1="544.40" x2="180.61" y2="548.10" stroke="#656565" stroke-width="1.5" />
<text x="180.61" y="564.00" font-size="11.8" text-anchor="middle" font-weight="normal" >6</text>
<line x1="219.79" y1="544.40" x2="219.79" y2="548.10" stroke="#656565" stroke-width="1.5" />
<text x="219.79" y="564.00" font-size="11.8" text-anchor="middle" font-weight="normal" >7</text>
<line x1="258.96" y1="544.40" x2="258.96" y2="548.10" stroke="#656565" stroke-width="1.5" />
<text x="258.96" y="564.00" font-size="11.8" text-anchor="middle" font-weight="normal" >8</text>
<line x1="298.13" y1="544.40" x2="298.13" y2="548.10" stroke="#656565" stroke-width="1.5" />
<text x="298.13" y="564.00" font-size="11.8" text-anchor="middle" font-weight="normal" >9</text>
<line x1="337.30" y1="544.40" x2="337.30" y2="548.10" stroke="#656565" stroke-width="1.5" />
<text x="337.30" y="564.00" font-size="11.8" text-anchor="middle" font-weight="normal" >10</text>
<circle cx="101.80" cy="509.70" r="4.4" fill="#8a8a00" stroke="#2a2a10" stroke-width="1.0"/>
<circle cx="104.30" cy="360.90" r="4.4" fill="#8a8a00" stroke="#2a2a10" stroke-width="1.0"/>
<circle cx="106.90" cy="371.90" r="4.4" fill="#8a8a00" stroke="#2a2a10" stroke-width="1.0"/>
<circle cx="101.30" cy="390.20" r="4.4" fill="#8a8a00" stroke="#2a2a10" stroke-width="1.0"/>
<circle cx="100.50" cy="413.10" r="4.4" fill="#8a8a00" stroke="#2a2a10" stroke-width="1.0"/>
<circle cx="99.90" cy="423.00" r="4.4" fill="#8a8a00" stroke="#2a2a10" stroke-width="1.0"/>
<circle cx="98.00" cy="428.60" r="4.4" fill="#8a8a00" stroke="#2a2a10" stroke-width="1.0"/>
<circle cx="99.70" cy="427.60" r="4.4" fill="#8a8a00" stroke="#2a2a10" stroke-width="1.0"/>
<circle cx="141.20" cy="335.60" r="4.4" fill="#ff00ff" stroke="#3a1a3a" stroke-width="1.0"/>
<circle cx="133.50" cy="360.50" r="4.4" fill="#ff00ff" stroke="#3a1a3a" stroke-width="1.0"/>
<circle cx="131.50" cy="365.90" r="4.4" fill="#ff00ff" stroke="#3a1a3a" stroke-width="1.0"/>
<circle cx="140.20" cy="388.80" r="4.4" fill="#ff00ff" stroke="#3a1a3a" stroke-width="1.0"/>
<circle cx="131.70" cy="421.50" r="4.4" fill="#ff00ff" stroke="#3a1a3a" stroke-width="1.0"/>
<circle cx="130.80" cy="425.50" r="4.4" fill="#ff00ff" stroke="#3a1a3a" stroke-width="1.0"/>
<circle cx="138.50" cy="431.40" r="4.4" fill="#ff00ff" stroke="#3a1a3a" stroke-width="1.0"/>
<circle cx="135.70" cy="436.70" r="4.4" fill="#ff00ff" stroke="#3a1a3a" stroke-width="1.0"/>
<circle cx="307.90" cy="386.40" r="4.4" fill="#0000ff" stroke="#00003a" stroke-width="1.0"/>
<circle cx="302.20" cy="389.40" r="4.4" fill="#0000ff" stroke="#00003a" stroke-width="1.0"/>
<circle cx="302.70" cy="381.70" r="4.4" fill="#0000ff" stroke="#00003a" stroke-width="1.0"/>
<circle cx="311.90" cy="380.90" r="4.4" fill="#0000ff" stroke="#00003a" stroke-width="1.0"/>
<circle cx="298.70" cy="359.40" r="4.4" fill="#0000ff" stroke="#00003a" stroke-width="1.0"/>
<circle cx="301.70" cy="356.40" r="4.4" fill="#0000ff" stroke="#00003a" stroke-width="1.0"/>
<circle cx="301.70" cy="325.70" r="4.4" fill="#0000ff" stroke="#00003a" stroke-width="1.0"/>
<line x1="84.70" y1="413.70" x2="315.50" y2="355.20" stroke="#000" stroke-width="2.3" stroke-linecap="round"/>
<text x="183.6" y="407.9" font-size="15.3" font-weight="bold">R<tspan font-size="9" dy="-7.2">2</tspan><tspan dy="7.2"> = 0.3</tspan></text>
<text x="334.30" y="316.90" font-size="16.8" text-anchor="end" font-weight="bold" >(c)</text>
<line x1="252.80" y1="503.10" x2="279.70" y2="503.10" stroke="#3a3ad0" stroke-width="1.6" />
<circle cx="266.30" cy="503.10" r="4.4" fill="#0000ff" stroke="#00003a" stroke-width="1.0"/>
<text x="285.80" y="507.30" font-size="11.7" text-anchor="start" font-weight="bold" >Phase I</text>
<line x1="252.80" y1="517.60" x2="279.70" y2="517.60" stroke="#ff44ff" stroke-width="1.6" />
<circle cx="266.30" cy="517.60" r="4.4" fill="#ff00ff" stroke="#3a1a3a" stroke-width="1.0"/>
<text x="285.80" y="521.80" font-size="11.7" text-anchor="start" font-weight="bold" >Phase II</text>
<line x1="252.80" y1="532.60" x2="279.70" y2="532.60" stroke="#8a8a20" stroke-width="1.6" />
<circle cx="266.30" cy="532.60" r="4.4" fill="#8a8a00" stroke="#2a2a10" stroke-width="1.0"/>
<text x="285.80" y="536.80" font-size="11.7" text-anchor="start" font-weight="bold" >Phase III</text>
<text transform="translate(16.9,420.7) rotate(-90)" font-size="15.5" font-weight="bold" text-anchor="middle"><tspan dy="0.0">CH</tspan><tspan font-size="10.5" dy="3.6">4</tspan><tspan dy="-3.6"> removal rate (g m</tspan><tspan font-size="10.5" dy="-6.2">-3</tspan><tspan dy="6.2"> h</tspan><tspan font-size="10.5" dy="-6.2">-1</tspan><tspan dy="6.2">)</tspan></text>
<text x="200.2" y="591.2" font-size="15.5" font-weight="bold" text-anchor="middle"><tspan dy="0.0">CH</tspan><tspan font-size="10.5" dy="3.6">4</tspan><tspan dy="-3.6"> Inflow loading (g m</tspan><tspan font-size="10.5" dy="-6.2">-3</tspan><tspan dy="6.2"> h</tspan><tspan font-size="10.5" dy="-6.2">-1</tspan><tspan dy="6.2">)</tspan></text>
<rect x="399.6" y="298.9" width="274.20" height="246.90" fill="none" stroke="#858585" stroke-width="1.7"/>
<line x1="467.50" y1="545.80" x2="645.00" y2="545.80" stroke="#9890c0" stroke-width="1.2" />
<line x1="395.80" y1="306.60" x2="399.60" y2="306.60" stroke="#737373" stroke-width="1.5" />
<text x="389.40" y="311.40" font-size="13.8" text-anchor="end" font-weight="normal" >out</text>
<line x1="395.80" y1="345.18" x2="399.60" y2="345.18" stroke="#737373" stroke-width="1.5" />
<text x="389.40" y="349.98" font-size="13.8" text-anchor="end" font-weight="normal" >85</text>
<line x1="395.80" y1="383.76" x2="399.60" y2="383.76" stroke="#737373" stroke-width="1.5" />
<text x="389.40" y="388.56" font-size="13.8" text-anchor="end" font-weight="normal" >65</text>
<line x1="395.80" y1="422.34" x2="399.60" y2="422.34" stroke="#737373" stroke-width="1.5" />
<text x="389.40" y="427.14" font-size="13.8" text-anchor="end" font-weight="normal" >45</text>
<line x1="395.80" y1="460.92" x2="399.60" y2="460.92" stroke="#737373" stroke-width="1.5" />
<text x="389.40" y="465.72" font-size="13.8" text-anchor="end" font-weight="normal" >25</text>
<line x1="395.80" y1="499.50" x2="399.60" y2="499.50" stroke="#737373" stroke-width="1.5" />
<text x="389.40" y="504.30" font-size="13.8" text-anchor="end" font-weight="normal" >5</text>
<line x1="395.80" y1="538.08" x2="399.60" y2="538.08" stroke="#737373" stroke-width="1.5" />
<text x="389.40" y="542.88" font-size="13.8" text-anchor="end" font-weight="normal" >in</text>
<line x1="399.60" y1="545.80" x2="399.60" y2="549.50" stroke="#737373" stroke-width="1.5" />
<text x="399.60" y="568.40" font-size="13.4" text-anchor="middle" font-weight="normal" >40</text>
<line x1="430.07" y1="545.80" x2="430.07" y2="549.50" stroke="#737373" stroke-width="1.5" />
<text x="430.07" y="568.40" font-size="13.4" text-anchor="middle" font-weight="normal" >60</text>
<line x1="460.53" y1="545.80" x2="460.53" y2="549.50" stroke="#737373" stroke-width="1.5" />
<text x="460.53" y="568.40" font-size="13.4" text-anchor="middle" font-weight="normal" >80</text>
<line x1="491.00" y1="545.80" x2="491.00" y2="549.50" stroke="#737373" stroke-width="1.5" />
<text x="491.00" y="568.40" font-size="13.4" text-anchor="middle" font-weight="normal" >100</text>
<line x1="521.47" y1="545.80" x2="521.47" y2="549.50" stroke="#737373" stroke-width="1.5" />
<text x="521.47" y="568.40" font-size="13.4" text-anchor="middle" font-weight="normal" >120</text>
<line x1="551.93" y1="545.80" x2="551.93" y2="549.50" stroke="#737373" stroke-width="1.5" />
<text x="551.93" y="568.40" font-size="13.4" text-anchor="middle" font-weight="normal" >140</text>
<line x1="582.40" y1="545.80" x2="582.40" y2="549.50" stroke="#737373" stroke-width="1.5" />
<text x="582.40" y="568.40" font-size="13.4" text-anchor="middle" font-weight="normal" >160</text>
<line x1="612.87" y1="545.80" x2="612.87" y2="549.50" stroke="#737373" stroke-width="1.5" />
<text x="612.87" y="568.40" font-size="13.4" text-anchor="middle" font-weight="normal" >180</text>
<line x1="643.33" y1="545.80" x2="643.33" y2="549.50" stroke="#737373" stroke-width="1.5" />
<text x="643.33" y="568.40" font-size="13.4" text-anchor="middle" font-weight="normal" >200</text>
<line x1="673.80" y1="545.80" x2="673.80" y2="549.50" stroke="#737373" stroke-width="1.5" />
<text x="673.80" y="568.40" font-size="13.4" text-anchor="middle" font-weight="normal" >220</text>
<line x1="421.25" y1="306.60" x2="443.95" y2="306.60" stroke="#6a6ad8" stroke-width="1.4" />
<line x1="421.25" y1="303.10" x2="421.25" y2="310.10" stroke="#6a6ad8" stroke-width="1.4" />
<line x1="443.95" y1="303.10" x2="443.95" y2="310.10" stroke="#6a6ad8" stroke-width="1.4" />
<line x1="422.35" y1="345.18" x2="443.45" y2="345.18" stroke="#6a6ad8" stroke-width="1.4" />
<line x1="422.35" y1="341.68" x2="422.35" y2="348.68" stroke="#6a6ad8" stroke-width="1.4" />
<line x1="443.45" y1="341.68" x2="443.45" y2="348.68" stroke="#6a6ad8" stroke-width="1.4" />
<line x1="427.45" y1="383.76" x2="446.35" y2="383.76" stroke="#6a6ad8" stroke-width="1.4" />
<line x1="427.45" y1="380.26" x2="427.45" y2="387.26" stroke="#6a6ad8" stroke-width="1.4" />
<line x1="446.35" y1="380.26" x2="446.35" y2="387.26" stroke="#6a6ad8" stroke-width="1.4" />
<line x1="437.20" y1="422.34" x2="450.40" y2="422.34" stroke="#6a6ad8" stroke-width="1.4" />
<line x1="437.20" y1="418.84" x2="437.20" y2="425.84" stroke="#6a6ad8" stroke-width="1.4" />
<line x1="450.40" y1="418.84" x2="450.40" y2="425.84" stroke="#6a6ad8" stroke-width="1.4" />
<line x1="445.40" y1="460.92" x2="450.40" y2="460.92" stroke="#6a6ad8" stroke-width="1.4" />
<line x1="445.40" y1="457.42" x2="445.40" y2="464.42" stroke="#6a6ad8" stroke-width="1.4" />
<line x1="450.40" y1="457.42" x2="450.40" y2="464.42" stroke="#6a6ad8" stroke-width="1.4" />
<line x1="453.80" y1="499.50" x2="456.80" y2="499.50" stroke="#6a6ad8" stroke-width="1.4" />
<line x1="453.80" y1="496.00" x2="453.80" y2="503.00" stroke="#6a6ad8" stroke-width="1.4" />
<line x1="456.80" y1="496.00" x2="456.80" y2="503.00" stroke="#6a6ad8" stroke-width="1.4" />
<polyline points="432.60,306.60 432.90,345.18 436.90,383.76 443.80,422.34 447.90,460.92 455.30,499.50 456.90,538.08" fill="none" stroke="#1c1cd0" stroke-width="1.8" stroke-linejoin="round"/>
<circle cx="432.60" cy="306.60" r="4.4" fill="#0000ff" stroke="#00003a" stroke-width="1.0"/>
<circle cx="432.90" cy="345.18" r="4.4" fill="#0000ff" stroke="#00003a" stroke-width="1.0"/>
<circle cx="436.90" cy="383.76" r="4.4" fill="#0000ff" stroke="#00003a" stroke-width="1.0"/>
<circle cx="443.80" cy="422.34" r="4.4" fill="#0000ff" stroke="#00003a" stroke-width="1.0"/>
<circle cx="447.90" cy="460.92" r="4.4" fill="#0000ff" stroke="#00003a" stroke-width="1.0"/>
<circle cx="455.30" cy="499.50" r="4.4" fill="#0000ff" stroke="#00003a" stroke-width="1.0"/>
<circle cx="456.90" cy="538.08" r="4.4" fill="#0000ff" stroke="#00003a" stroke-width="1.0"/>
<line x1="472.10" y1="306.60" x2="519.50" y2="306.60" stroke="#ff60ff" stroke-width="1.4" />
<line x1="472.10" y1="303.10" x2="472.10" y2="310.10" stroke="#ff60ff" stroke-width="1.4" />
<line x1="519.50" y1="303.10" x2="519.50" y2="310.10" stroke="#ff60ff" stroke-width="1.4" />
<line x1="469.15" y1="345.18" x2="510.05" y2="345.18" stroke="#ff60ff" stroke-width="1.4" />
<line x1="469.15" y1="341.68" x2="469.15" y2="348.68" stroke="#ff60ff" stroke-width="1.4" />
<line x1="510.05" y1="341.68" x2="510.05" y2="348.68" stroke="#ff60ff" stroke-width="1.4" />
<line x1="487.55" y1="383.76" x2="523.45" y2="383.76" stroke="#ff60ff" stroke-width="1.4" />
<line x1="487.55" y1="380.26" x2="487.55" y2="387.26" stroke="#ff60ff" stroke-width="1.4" />
<line x1="523.45" y1="380.26" x2="523.45" y2="387.26" stroke="#ff60ff" stroke-width="1.4" />
<line x1="510.00" y1="422.34" x2="535.00" y2="422.34" stroke="#ff60ff" stroke-width="1.4" />
<line x1="510.00" y1="418.84" x2="510.00" y2="425.84" stroke="#ff60ff" stroke-width="1.4" />
<line x1="535.00" y1="418.84" x2="535.00" y2="425.84" stroke="#ff60ff" stroke-width="1.4" />
<line x1="521.80" y1="460.92" x2="537.60" y2="460.92" stroke="#ff60ff" stroke-width="1.4" />
<line x1="521.80" y1="457.42" x2="521.80" y2="464.42" stroke="#ff60ff" stroke-width="1.4" />
<line x1="537.60" y1="457.42" x2="537.60" y2="464.42" stroke="#ff60ff" stroke-width="1.4" />
<line x1="534.60" y1="499.50" x2="542.60" y2="499.50" stroke="#ff60ff" stroke-width="1.4" />
<line x1="534.60" y1="496.00" x2="534.60" y2="503.00" stroke="#ff60ff" stroke-width="1.4" />
<line x1="542.60" y1="496.00" x2="542.60" y2="503.00" stroke="#ff60ff" stroke-width="1.4" />
<polyline points="495.80,306.60 489.60,345.18 505.50,383.76 522.50,422.34 529.70,460.92 538.60,499.50 543.40,538.08" fill="none" stroke="#ff1aff" stroke-width="1.8" stroke-linejoin="round"/>
<circle cx="495.80" cy="306.60" r="4.4" fill="#ff00ff" stroke="#3a1a3a" stroke-width="1.0"/>
<circle cx="489.60" cy="345.18" r="4.4" fill="#ff00ff" stroke="#3a1a3a" stroke-width="1.0"/>
<circle cx="505.50" cy="383.76" r="4.4" fill="#ff00ff" stroke="#3a1a3a" stroke-width="1.0"/>
<circle cx="522.50" cy="422.34" r="4.4" fill="#ff00ff" stroke="#3a1a3a" stroke-width="1.0"/>
<circle cx="529.70" cy="460.92" r="4.4" fill="#ff00ff" stroke="#3a1a3a" stroke-width="1.0"/>
<circle cx="538.60" cy="499.50" r="4.4" fill="#ff00ff" stroke="#3a1a3a" stroke-width="1.0"/>
<circle cx="543.40" cy="538.08" r="4.4" fill="#ff00ff" stroke="#3a1a3a" stroke-width="1.0"/>
<line x1="499.30" y1="306.60" x2="557.70" y2="306.60" stroke="#b4b46a" stroke-width="1.4" />
<line x1="499.30" y1="303.10" x2="499.30" y2="310.10" stroke="#b4b46a" stroke-width="1.4" />
<line x1="557.70" y1="303.10" x2="557.70" y2="310.10" stroke="#b4b46a" stroke-width="1.4" />
<line x1="486.50" y1="345.18" x2="603.10" y2="345.18" stroke="#b4b46a" stroke-width="1.4" />
<line x1="486.50" y1="341.68" x2="486.50" y2="348.68" stroke="#b4b46a" stroke-width="1.4" />
<line x1="603.10" y1="341.68" x2="603.10" y2="348.68" stroke="#b4b46a" stroke-width="1.4" />
<line x1="532.20" y1="383.76" x2="607.60" y2="383.76" stroke="#b4b46a" stroke-width="1.4" />
<line x1="532.20" y1="380.26" x2="532.20" y2="387.26" stroke="#b4b46a" stroke-width="1.4" />
<line x1="607.60" y1="380.26" x2="607.60" y2="387.26" stroke="#b4b46a" stroke-width="1.4" />
<line x1="577.70" y1="422.34" x2="628.30" y2="422.34" stroke="#b4b46a" stroke-width="1.4" />
<line x1="577.70" y1="418.84" x2="577.70" y2="425.84" stroke="#b4b46a" stroke-width="1.4" />
<line x1="628.30" y1="418.84" x2="628.30" y2="425.84" stroke="#b4b46a" stroke-width="1.4" />
<line x1="627.65" y1="460.92" x2="642.35" y2="460.92" stroke="#b4b46a" stroke-width="1.4" />
<line x1="627.65" y1="457.42" x2="627.65" y2="464.42" stroke="#b4b46a" stroke-width="1.4" />
<line x1="642.35" y1="457.42" x2="642.35" y2="464.42" stroke="#b4b46a" stroke-width="1.4" />
<line x1="662.30" y1="499.50" x2="666.30" y2="499.50" stroke="#b4b46a" stroke-width="1.4" />
<line x1="662.30" y1="496.00" x2="662.30" y2="503.00" stroke="#b4b46a" stroke-width="1.4" />
<line x1="666.30" y1="496.00" x2="666.30" y2="503.00" stroke="#b4b46a" stroke-width="1.4" />
<polyline points="528.50,306.60 544.80,345.18 569.90,383.76 603.00,422.34 635.00,460.92 664.30,499.50 667.90,538.08" fill="none" stroke="#828210" stroke-width="1.8" stroke-linejoin="round"/>
<circle cx="528.50" cy="306.60" r="4.4" fill="#8a8a00" stroke="#2a2a10" stroke-width="1.0"/>
<circle cx="544.80" cy="345.18" r="4.4" fill="#8a8a00" stroke="#2a2a10" stroke-width="1.0"/>
<circle cx="569.90" cy="383.76" r="4.4" fill="#8a8a00" stroke="#2a2a10" stroke-width="1.0"/>
<circle cx="603.00" cy="422.34" r="4.4" fill="#8a8a00" stroke="#2a2a10" stroke-width="1.0"/>
<circle cx="635.00" cy="460.92" r="4.4" fill="#8a8a00" stroke="#2a2a10" stroke-width="1.0"/>
<circle cx="664.30" cy="499.50" r="4.4" fill="#8a8a00" stroke="#2a2a10" stroke-width="1.0"/>
<circle cx="667.90" cy="538.08" r="4.4" fill="#8a8a00" stroke="#2a2a10" stroke-width="1.0"/>
<text x="401.00" y="316.40" font-size="16.8" text-anchor="start" font-weight="bold" >(d)</text>
<line x1="591.40" y1="308.00" x2="618.30" y2="308.00" stroke="#3a3ad0" stroke-width="1.6" />
<circle cx="604.60" cy="308.00" r="4.4" fill="#0000ff" stroke="#00003a" stroke-width="1.0"/>
<text x="624.80" y="312.30" font-size="11.7" text-anchor="start" font-weight="bold" >Phase I</text>
<line x1="591.40" y1="322.80" x2="618.30" y2="322.80" stroke="#ff44ff" stroke-width="1.6" />
<circle cx="604.60" cy="322.80" r="4.4" fill="#ff00ff" stroke="#3a1a3a" stroke-width="1.0"/>
<text x="624.80" y="327.10" font-size="11.7" text-anchor="start" font-weight="bold" >Phase II</text>
<line x1="591.40" y1="337.60" x2="618.30" y2="337.60" stroke="#8a8a20" stroke-width="1.6" />
<circle cx="604.60" cy="337.60" r="4.4" fill="#8a8a00" stroke="#2a2a10" stroke-width="1.0"/>
<text x="624.80" y="341.90" font-size="11.7" text-anchor="start" font-weight="bold" >Phase III</text>
<text transform="translate(363.4,422.2) rotate(-90)" font-size="17.4" font-weight="bold" text-anchor="middle">Height (cm)</text>
<text x="536.9" y="595.7" font-size="15.5" font-weight="bold" text-anchor="middle"><tspan dy="0.0">CH</tspan><tspan font-size="10.5" dy="3.6">4</tspan><tspan dy="-3.6"> (mg L</tspan><tspan font-size="10.5" dy="-6.2">-1</tspan><tspan dy="6.2">)</tspan></text>
</svg>
</body></html>
